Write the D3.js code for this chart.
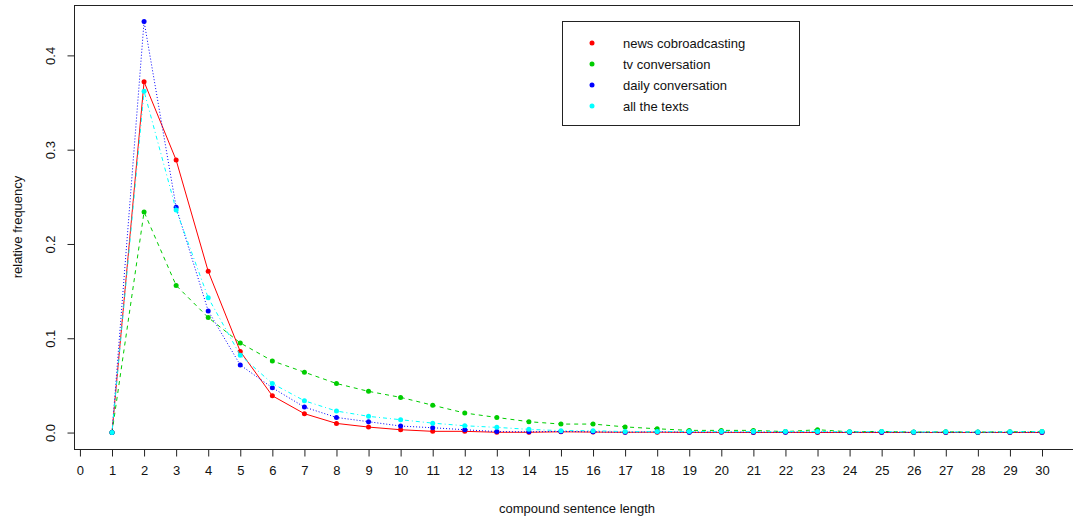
<!DOCTYPE html>
<html>
<head>
<meta charset="utf-8">
<script src="https://cdn.jsdelivr.net/npm/d3@7"></script>
<style>
  html, body { margin: 0; padding: 0; background: #fff; }
  svg { display: block; font-family: "Liberation Sans", Arial, sans-serif; }
</style>
</head>
<body>
<svg id="chart" width="1073" height="520"></svg>
<script>
// ---- data ----
const lengths = d3.range(1, 31);
const xTicks = d3.range(0, 31);
const yTicks = [0.0, 0.1, 0.2, 0.3, 0.4];
const seriesNames = ["news cobroadcasting", "tv conversation", "daily conversation", "all the texts"];
const news  = [0, 0.372, 0.289, 0.171, 0.086, 0.039, 0.020, 0.0097, 0.0058, 0.003, 0.0013, 0.0013, 0.0003, 0.0003, 0.0008, 0.0005, 0.0003, 0.0004, 0.0002, 0.0002, 0.0001, 0.0002, 0.0001, 0.0001, 0.0001, 0.0001, 0.0001, 0.0001, 0.0001, 0.0001];
const tv    = [0, 0.234, 0.156, 0.122, 0.095, 0.076, 0.064, 0.052, 0.0437, 0.0373, 0.029, 0.0207, 0.016, 0.0115, 0.009, 0.009, 0.006, 0.004, 0.0023, 0.0023, 0.0023, 0.001, 0.003, 0.0008, 0.0012, 0.0005, 0.0008, 0.0005, 0.0008, 0.0012];
const daily = [0, 0.436, 0.239, 0.129, 0.0716, 0.0475, 0.027, 0.016, 0.0115, 0.0069, 0.0051, 0.003, 0.001, 0.0008, 0.0012, 0.0008, 0.0004, 0.0008, 0.0004, 0.0005, 0.0004, 0.0004, 0.0006, 0.0003, 0.0004, 0.0002, 0.0003, 0.0002, 0.0003, 0.0002];
const all   = [0, 0.362, 0.236, 0.143, 0.082, 0.052, 0.0337, 0.0228, 0.0172, 0.0136, 0.010, 0.0072, 0.0055, 0.0034, 0.002, 0.002, 0.001, 0.001, 0.0012, 0.001, 0.001, 0.001, 0.0012, 0.0008, 0.001, 0.0006, 0.0008, 0.0006, 0.0008, 0.001];

// ---- styles ----
const colors = ["#FF0000", "#00CD00", "#0000FF", "#00FFFF"];
const dashes = [null, "4,4", "1,2", "1,3,4,3"];
const seriesVals = [news, tv, daily, all];

const svg = d3.select("#chart");
const pLeft = 74.8, pRight = 1079.2, pTop = 5, pBottom = 449;
const x = d3.scaleLinear().domain([-0.16, 31.16]).range([pLeft, pRight]);
const y = d3.scaleLinear().domain([-0.01744, 0.45344]).range([pBottom, pTop]);

// box (right edge falls outside the picture)
svg.append("rect")
  .attr("x", Math.round(pLeft) - 0.5).attr("y", pTop + 0.5)
  .attr("width", pRight - pLeft).attr("height", pBottom - pTop)
  .attr("fill", "none").attr("stroke", "#222").attr("stroke-width", 1);

// x axis
const xAxis = d3.axisBottom(x).tickValues(xTicks).tickFormat(d3.format("d")).tickSize(7).tickPadding(9).tickSizeOuter(0);
const gx = svg.append("g").attr("transform", `translate(0,${pBottom + 0.5})`).call(xAxis);
gx.select(".domain").attr("d", `M${x(0)},0H${x(30)}`).attr("stroke", "#222");
gx.selectAll(".tick line").attr("stroke", "#222");
gx.selectAll(".tick text").attr("font-size", 13).attr("fill", "#111").attr("font-family", "Liberation Sans, Arial, sans-serif");

// y axis
const yAxis = d3.axisLeft(y).tickValues(yTicks).tickFormat(d3.format(".1f")).tickSize(7).tickSizeOuter(0);
const gy = svg.append("g").attr("transform", `translate(${Math.round(pLeft) - 0.5},0)`).call(yAxis);
gy.select(".domain").attr("d", `M0,${y(0)}V${y(0.4)}`).attr("stroke", "#222");
gy.selectAll(".tick line").attr("stroke", "#222");
gy.selectAll(".tick text")
  .attr("font-size", 13).attr("fill", "#111").attr("font-family", "Liberation Sans, Arial, sans-serif")
  .attr("x", null).attr("dy", null)
  .attr("text-anchor", "middle")
  .attr("transform", `translate(-20,0) rotate(-90)`);

// axis titles
svg.append("text").attr("x", (pLeft + pRight) / 2).attr("y", 513)
  .attr("text-anchor", "middle").attr("font-size", 13).attr("fill", "#111")
  .text("compound sentence length");
svg.append("text")
  .attr("transform", `translate(22,${(pTop + pBottom) / 2}) rotate(-90)`)
  .attr("text-anchor", "middle").attr("font-size", 13).attr("fill", "#111")
  .text("relative frequency");

// series
const line = d3.line().x((d, i) => x(lengths[i])).y(d => y(d));
seriesVals.forEach((vals, k) => {
  const g = svg.append("g");
  g.append("path").attr("d", line(vals))
    .attr("fill", "none").attr("stroke", colors[k]).attr("stroke-width", 1)
    .attr("stroke-dasharray", dashes[k]);
  g.selectAll("circle").data(vals).join("circle")
    .attr("cx", (d, i) => x(lengths[i])).attr("cy", d => y(d))
    .attr("r", 2.5).attr("fill", colors[k]);
});

// legend
const lg = svg.append("g");
lg.append("rect").attr("x", 562.5).attr("y", 21.5).attr("width", 237).attr("height", 104)
  .attr("fill", "#fff").attr("stroke", "#222").attr("stroke-width", 1);
seriesNames.forEach((name, k) => {
  const cy = 43 + k * 21;
  lg.append("circle").attr("cx", 592).attr("cy", cy).attr("r", 2.5).attr("fill", colors[k]);
  lg.append("text").attr("x", 623).attr("y", cy + 4.5).attr("font-size", 13).attr("fill", "#111").text(name);
});
</script>
</body>
</html>
